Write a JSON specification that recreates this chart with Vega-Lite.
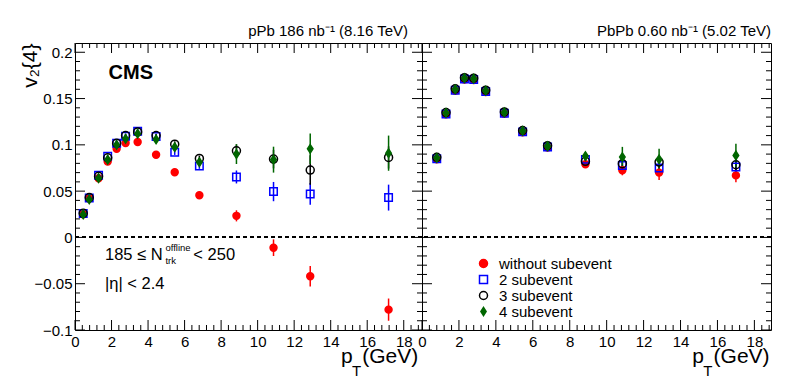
{
  "$schema": "https://vega.github.io/schema/vega-lite/v6.json",
  "background": "white",
  "padding": {"left": 18, "top": 23, "right": 5, "bottom": 5},
  "bounds": "flush",
  "spacing": 0,
  "config": {
    "font": "Liberation Sans",
    "view": {"stroke": "black", "strokeWidth": 1},
    "axis": {"domain": false, "ticks": false, "grid": false, "labelColor": "black", "labelFont": "Liberation Sans", "labelFontSize": 15, "labelFlush": false, "labelOverlap": false, "titleColor": "black", "titleFont": "Liberation Sans", "titleFontWeight": "normal"},
    "title": {"font": "Liberation Sans", "fontSize": 15, "fontWeight": "normal", "color": "black"}
  },
  "resolve": {"legend": {"shape": "independent", "stroke": "independent", "fill": "independent"}},
  "datasets": {
    "xmaj": [{"v": 0}, {"v": 2}, {"v": 4}, {"v": 6}, {"v": 8}, {"v": 10}, {"v": 12}, {"v": 14}, {"v": 16}, {"v": 18}],
    "xmin": [{"v": 0.4}, {"v": 0.8}, {"v": 1.2}, {"v": 1.6}, {"v": 2.4}, {"v": 2.8}, {"v": 3.2}, {"v": 3.6}, {"v": 4.4}, {"v": 4.8}, {"v": 5.2}, {"v": 5.6}, {"v": 6.4}, {"v": 6.8}, {"v": 7.2}, {"v": 7.6}, {"v": 8.4}, {"v": 8.8}, {"v": 9.2}, {"v": 9.6}, {"v": 10.4}, {"v": 10.8}, {"v": 11.2}, {"v": 11.6}, {"v": 12.4}, {"v": 12.8}, {"v": 13.2}, {"v": 13.6}, {"v": 14.4}, {"v": 14.8}, {"v": 15.2}, {"v": 15.6}, {"v": 16.4}, {"v": 16.8}, {"v": 17.2}, {"v": 17.6}, {"v": 18.4}, {"v": 18.8}],
    "ymaj": [{"v": -0.1}, {"v": -0.05}, {"v": 0}, {"v": 0.05}, {"v": 0.1}, {"v": 0.15}, {"v": 0.2}],
    "ymin": [{"v": -0.09}, {"v": -0.08}, {"v": -0.07}, {"v": -0.06}, {"v": -0.04}, {"v": -0.03}, {"v": -0.02}, {"v": -0.01}, {"v": 0.01}, {"v": 0.02}, {"v": 0.03}, {"v": 0.04}, {"v": 0.06}, {"v": 0.07}, {"v": 0.08}, {"v": 0.09}, {"v": 0.11}, {"v": 0.12}, {"v": 0.13}, {"v": 0.14}, {"v": 0.16}, {"v": 0.17}, {"v": 0.18}, {"v": 0.19}],
    "ppb": [
      {"pt": 0.45, "v2": 0.025, "lo": 0.024, "hi": 0.026, "m": "without subevent"},
      {"pt": 0.78, "v2": 0.042, "lo": 0.041, "hi": 0.043, "m": "without subevent"},
      {"pt": 1.29, "v2": 0.064, "lo": 0.063, "hi": 0.065, "m": "without subevent"},
      {"pt": 1.79, "v2": 0.082, "lo": 0.081, "hi": 0.083, "m": "without subevent"},
      {"pt": 2.28, "v2": 0.0957, "lo": 0.0947, "hi": 0.0967, "m": "without subevent"},
      {"pt": 2.77, "v2": 0.102, "lo": 0.101, "hi": 0.103, "m": "without subevent"},
      {"pt": 3.43, "v2": 0.103, "lo": 0.101, "hi": 0.105, "m": "without subevent"},
      {"pt": 4.44, "v2": 0.0892, "lo": 0.0872, "hi": 0.0912, "m": "without subevent"},
      {"pt": 5.46, "v2": 0.0703, "lo": 0.0683, "hi": 0.0723, "m": "without subevent"},
      {"pt": 6.81, "v2": 0.0456, "lo": 0.0426, "hi": 0.0486, "m": "without subevent"},
      {"pt": 8.84, "v2": 0.0233, "lo": 0.0173, "hi": 0.0293, "m": "without subevent"},
      {"pt": 10.87, "v2": -0.0111, "lo": -0.0201, "hi": -0.0021, "m": "without subevent"},
      {"pt": 12.88, "v2": -0.0419, "lo": -0.0529, "hi": -0.0309, "m": "without subevent"},
      {"pt": 17.17, "v2": -0.078, "lo": -0.09, "hi": -0.066, "m": "without subevent"},
      {"pt": 0.45, "v2": 0.0258, "lo": 0.0248, "hi": 0.0268, "m": "2 subevent"},
      {"pt": 0.78, "v2": 0.0427, "lo": 0.0417, "hi": 0.0437, "m": "2 subevent"},
      {"pt": 1.29, "v2": 0.0671, "lo": 0.0661, "hi": 0.0681, "m": "2 subevent"},
      {"pt": 1.79, "v2": 0.0878, "lo": 0.0868, "hi": 0.0888, "m": "2 subevent"},
      {"pt": 2.28, "v2": 0.1018, "lo": 0.1008, "hi": 0.1028, "m": "2 subevent"},
      {"pt": 2.77, "v2": 0.1093, "lo": 0.1073, "hi": 0.1113, "m": "2 subevent"},
      {"pt": 3.43, "v2": 0.1147, "lo": 0.1127, "hi": 0.1167, "m": "2 subevent"},
      {"pt": 4.44, "v2": 0.109, "lo": 0.107, "hi": 0.111, "m": "2 subevent"},
      {"pt": 5.46, "v2": 0.0921, "lo": 0.0891, "hi": 0.0951, "m": "2 subevent"},
      {"pt": 6.81, "v2": 0.0771, "lo": 0.0741, "hi": 0.0801, "m": "2 subevent"},
      {"pt": 8.84, "v2": 0.0653, "lo": 0.0583, "hi": 0.0723, "m": "2 subevent"},
      {"pt": 10.87, "v2": 0.0495, "lo": 0.0391, "hi": 0.0599, "m": "2 subevent"},
      {"pt": 12.88, "v2": 0.047, "lo": 0.0353, "hi": 0.0587, "m": "2 subevent"},
      {"pt": 17.17, "v2": 0.043, "lo": 0.029, "hi": 0.057, "m": "2 subevent"},
      {"pt": 0.45, "v2": 0.026, "lo": 0.025, "hi": 0.027, "m": "3 subevent"},
      {"pt": 0.78, "v2": 0.043, "lo": 0.042, "hi": 0.044, "m": "3 subevent"},
      {"pt": 1.29, "v2": 0.066, "lo": 0.065, "hi": 0.067, "m": "3 subevent"},
      {"pt": 1.79, "v2": 0.086, "lo": 0.085, "hi": 0.087, "m": "3 subevent"},
      {"pt": 2.28, "v2": 0.1017, "lo": 0.1007, "hi": 0.1027, "m": "3 subevent"},
      {"pt": 2.77, "v2": 0.11, "lo": 0.108, "hi": 0.112, "m": "3 subevent"},
      {"pt": 3.43, "v2": 0.114, "lo": 0.112, "hi": 0.116, "m": "3 subevent"},
      {"pt": 4.44, "v2": 0.11, "lo": 0.108, "hi": 0.112, "m": "3 subevent"},
      {"pt": 5.46, "v2": 0.1007, "lo": 0.0977, "hi": 0.1037, "m": "3 subevent"},
      {"pt": 6.81, "v2": 0.0853, "lo": 0.0823, "hi": 0.0883, "m": "3 subevent"},
      {"pt": 8.84, "v2": 0.0935, "lo": 0.0865, "hi": 0.1005, "m": "3 subevent"},
      {"pt": 10.87, "v2": 0.0846, "lo": 0.0746, "hi": 0.0946, "m": "3 subevent"},
      {"pt": 12.88, "v2": 0.0728, "lo": 0.0568, "hi": 0.0888, "m": "3 subevent"},
      {"pt": 17.17, "v2": 0.0864, "lo": 0.0744, "hi": 0.0984, "m": "3 subevent"},
      {"pt": 0.45, "v2": 0.0248, "lo": 0.0238, "hi": 0.0258, "m": "4 subevent"},
      {"pt": 0.78, "v2": 0.041, "lo": 0.04, "hi": 0.042, "m": "4 subevent"},
      {"pt": 1.29, "v2": 0.064, "lo": 0.063, "hi": 0.065, "m": "4 subevent"},
      {"pt": 1.79, "v2": 0.084, "lo": 0.082, "hi": 0.086, "m": "4 subevent"},
      {"pt": 2.28, "v2": 0.1, "lo": 0.098, "hi": 0.102, "m": "4 subevent"},
      {"pt": 2.77, "v2": 0.1065, "lo": 0.1045, "hi": 0.1085, "m": "4 subevent"},
      {"pt": 3.43, "v2": 0.112, "lo": 0.109, "hi": 0.115, "m": "4 subevent"},
      {"pt": 4.44, "v2": 0.1058, "lo": 0.1028, "hi": 0.1088, "m": "4 subevent"},
      {"pt": 5.46, "v2": 0.0975, "lo": 0.0935, "hi": 0.1015, "m": "4 subevent"},
      {"pt": 6.81, "v2": 0.0813, "lo": 0.0773, "hi": 0.0853, "m": "4 subevent"},
      {"pt": 8.84, "v2": 0.09, "lo": 0.0793, "hi": 0.1007, "m": "4 subevent"},
      {"pt": 10.87, "v2": 0.084, "lo": 0.07, "hi": 0.098, "m": "4 subevent"},
      {"pt": 12.88, "v2": 0.0957, "lo": 0.0792, "hi": 0.1122, "m": "4 subevent"},
      {"pt": 17.17, "v2": 0.091, "lo": 0.072, "hi": 0.11, "m": "4 subevent"}
    ],
    "pbpb": [
      {"pt": 0.8, "v2": 0.0845, "lo": 0.0835, "hi": 0.0855, "m": "without subevent"},
      {"pt": 1.3, "v2": 0.1329, "lo": 0.1319, "hi": 0.1339, "m": "without subevent"},
      {"pt": 1.8, "v2": 0.1585, "lo": 0.1575, "hi": 0.1595, "m": "without subevent"},
      {"pt": 2.3, "v2": 0.1705, "lo": 0.1695, "hi": 0.1715, "m": "without subevent"},
      {"pt": 2.8, "v2": 0.17, "lo": 0.169, "hi": 0.171, "m": "without subevent"},
      {"pt": 3.45, "v2": 0.157, "lo": 0.156, "hi": 0.158, "m": "without subevent"},
      {"pt": 4.46, "v2": 0.1335, "lo": 0.1325, "hi": 0.1345, "m": "without subevent"},
      {"pt": 5.45, "v2": 0.1135, "lo": 0.1125, "hi": 0.1145, "m": "without subevent"},
      {"pt": 6.8, "v2": 0.0971, "lo": 0.0961, "hi": 0.0981, "m": "without subevent"},
      {"pt": 8.85, "v2": 0.079, "lo": 0.077, "hi": 0.081, "m": "without subevent"},
      {"pt": 10.85, "v2": 0.0725, "lo": 0.0671, "hi": 0.0779, "m": "without subevent"},
      {"pt": 12.84, "v2": 0.07, "lo": 0.062, "hi": 0.078, "m": "without subevent"},
      {"pt": 17.0, "v2": 0.067, "lo": 0.0595, "hi": 0.0745, "m": "without subevent"},
      {"pt": 0.8, "v2": 0.085, "lo": 0.084, "hi": 0.086, "m": "2 subevent"},
      {"pt": 1.3, "v2": 0.1334, "lo": 0.1324, "hi": 0.1344, "m": "2 subevent"},
      {"pt": 1.8, "v2": 0.159, "lo": 0.158, "hi": 0.16, "m": "2 subevent"},
      {"pt": 2.3, "v2": 0.171, "lo": 0.17, "hi": 0.172, "m": "2 subevent"},
      {"pt": 2.8, "v2": 0.1705, "lo": 0.1695, "hi": 0.1715, "m": "2 subevent"},
      {"pt": 3.45, "v2": 0.1575, "lo": 0.1565, "hi": 0.1585, "m": "2 subevent"},
      {"pt": 4.46, "v2": 0.134, "lo": 0.133, "hi": 0.135, "m": "2 subevent"},
      {"pt": 5.45, "v2": 0.114, "lo": 0.113, "hi": 0.115, "m": "2 subevent"},
      {"pt": 6.8, "v2": 0.0976, "lo": 0.0966, "hi": 0.0986, "m": "2 subevent"},
      {"pt": 8.85, "v2": 0.0843, "lo": 0.0823, "hi": 0.0863, "m": "2 subevent"},
      {"pt": 10.85, "v2": 0.0778, "lo": 0.0728, "hi": 0.0828, "m": "2 subevent"},
      {"pt": 12.84, "v2": 0.075, "lo": 0.068, "hi": 0.082, "m": "2 subevent"},
      {"pt": 17.0, "v2": 0.076, "lo": 0.07, "hi": 0.082, "m": "2 subevent"},
      {"pt": 0.8, "v2": 0.0865, "lo": 0.0855, "hi": 0.0875, "m": "3 subevent"},
      {"pt": 1.3, "v2": 0.1349, "lo": 0.1339, "hi": 0.1359, "m": "3 subevent"},
      {"pt": 1.8, "v2": 0.1605, "lo": 0.1595, "hi": 0.1615, "m": "3 subevent"},
      {"pt": 2.3, "v2": 0.1725, "lo": 0.1715, "hi": 0.1735, "m": "3 subevent"},
      {"pt": 2.8, "v2": 0.172, "lo": 0.171, "hi": 0.173, "m": "3 subevent"},
      {"pt": 3.45, "v2": 0.159, "lo": 0.158, "hi": 0.16, "m": "3 subevent"},
      {"pt": 4.46, "v2": 0.1355, "lo": 0.1345, "hi": 0.1365, "m": "3 subevent"},
      {"pt": 5.45, "v2": 0.1155, "lo": 0.1145, "hi": 0.1165, "m": "3 subevent"},
      {"pt": 6.8, "v2": 0.0991, "lo": 0.0981, "hi": 0.1001, "m": "3 subevent"},
      {"pt": 8.85, "v2": 0.0822, "lo": 0.0792, "hi": 0.0852, "m": "3 subevent"},
      {"pt": 10.85, "v2": 0.0796, "lo": 0.0736, "hi": 0.0856, "m": "3 subevent"},
      {"pt": 12.84, "v2": 0.0814, "lo": 0.0744, "hi": 0.0884, "m": "3 subevent"},
      {"pt": 17.0, "v2": 0.0785, "lo": 0.0725, "hi": 0.0845, "m": "3 subevent"},
      {"pt": 0.8, "v2": 0.086, "lo": 0.0845, "hi": 0.0875, "m": "4 subevent"},
      {"pt": 1.3, "v2": 0.1344, "lo": 0.1329, "hi": 0.1359, "m": "4 subevent"},
      {"pt": 1.8, "v2": 0.16, "lo": 0.1585, "hi": 0.1615, "m": "4 subevent"},
      {"pt": 2.3, "v2": 0.172, "lo": 0.1705, "hi": 0.1735, "m": "4 subevent"},
      {"pt": 2.8, "v2": 0.1715, "lo": 0.17, "hi": 0.173, "m": "4 subevent"},
      {"pt": 3.45, "v2": 0.1585, "lo": 0.157, "hi": 0.16, "m": "4 subevent"},
      {"pt": 4.46, "v2": 0.135, "lo": 0.1335, "hi": 0.1365, "m": "4 subevent"},
      {"pt": 5.45, "v2": 0.115, "lo": 0.1135, "hi": 0.1165, "m": "4 subevent"},
      {"pt": 6.8, "v2": 0.0986, "lo": 0.0971, "hi": 0.1001, "m": "4 subevent"},
      {"pt": 8.85, "v2": 0.0879, "lo": 0.0839, "hi": 0.0919, "m": "4 subevent"},
      {"pt": 10.85, "v2": 0.0868, "lo": 0.0758, "hi": 0.0978, "m": "4 subevent"},
      {"pt": 12.84, "v2": 0.0843, "lo": 0.0728, "hi": 0.0958, "m": "4 subevent"},
      {"pt": 17.0, "v2": 0.0886, "lo": 0.0761, "hi": 0.1011, "m": "4 subevent"}
    ]
  },
  "hconcat": [
    {
      "width": 347,
      "height": 287,
      "data": {"name": "ppb"},
      "title": {"text": "pPb 186 nb⁻¹ (8.16 TeV)", "anchor": "end", "frame": "group", "dx": -14, "dy": 13, "offset": 5, "baseline": "alphabetic"},
      "layer": [
        {"data": {"name": "xmaj"}, "mark": {"type": "tick", "orient": "vertical", "size": 10, "thickness": 1, "color": "black", "opacity": 1, "yOffset": -5}, "encoding": {"x": {"field": "v", "type": "quantitative", "axis": null}, "y": {"datum": -0.1, "type": "quantitative", "axis": null}}},
        {"data": {"name": "xmaj"}, "mark": {"type": "tick", "orient": "vertical", "size": 10, "thickness": 1, "color": "black", "opacity": 1, "yOffset": 5}, "encoding": {"x": {"field": "v", "type": "quantitative", "axis": null}, "y": {"datum": 0.21, "type": "quantitative", "axis": null}}},
        {"data": {"name": "xmin"}, "mark": {"type": "tick", "orient": "vertical", "size": 5, "thickness": 1, "color": "black", "opacity": 1, "yOffset": -2.5}, "encoding": {"x": {"field": "v", "type": "quantitative", "axis": null}, "y": {"datum": -0.1, "type": "quantitative", "axis": null}}},
        {"data": {"name": "xmin"}, "mark": {"type": "tick", "orient": "vertical", "size": 5, "thickness": 1, "color": "black", "opacity": 1, "yOffset": 2.5}, "encoding": {"x": {"field": "v", "type": "quantitative", "axis": null}, "y": {"datum": 0.21, "type": "quantitative", "axis": null}}},
        {"data": {"name": "ymaj"}, "mark": {"type": "tick", "orient": "horizontal", "size": 10, "thickness": 1, "color": "black", "opacity": 1, "xOffset": 5}, "encoding": {"y": {"field": "v", "type": "quantitative", "axis": null}, "x": {"datum": 0, "type": "quantitative", "axis": null}}},
        {"data": {"name": "ymaj"}, "mark": {"type": "tick", "orient": "horizontal", "size": 10, "thickness": 1, "color": "black", "opacity": 1, "xOffset": -5}, "encoding": {"y": {"field": "v", "type": "quantitative", "axis": null}, "x": {"datum": 19, "type": "quantitative", "axis": null}}},
        {"data": {"name": "ymin"}, "mark": {"type": "tick", "orient": "horizontal", "size": 5, "thickness": 1, "color": "black", "opacity": 1, "xOffset": 2.5}, "encoding": {"y": {"field": "v", "type": "quantitative", "axis": null}, "x": {"datum": 0, "type": "quantitative", "axis": null}}},
        {"data": {"name": "ymin"}, "mark": {"type": "tick", "orient": "horizontal", "size": 5, "thickness": 1, "color": "black", "opacity": 1, "xOffset": -2.5}, "encoding": {"y": {"field": "v", "type": "quantitative", "axis": null}, "x": {"datum": 19, "type": "quantitative", "axis": null}}},
        {
          "mark": {"type": "rule", "color": "black", "strokeWidth": 1, "strokeDash": [4, 3]},
          "encoding": {"y": {"datum": 0, "type": "quantitative", "axis": null}}
        },
        {
          "mark": {"type": "rule", "strokeWidth": 1.5},
          "encoding": {
            "x": {"field": "pt", "type": "quantitative", "scale": {"domain": [0, 19], "nice": false, "zero": false},
              "axis": {"orient": "bottom", "title": null, "values": [0,2,4,6,8,10,12,14,16,18], "format": "d", "labelPadding": 4}},
            "y": {"field": "lo", "type": "quantitative", "scale": {"domain": [-0.1, 0.21], "nice": false, "zero": false},
              "axis": {"orient": "left", "title": "v₂{4}", "titleFontSize": 21, "titleX": -39, "titleY": 0, "titleAlign": "right", "titleAngle": -90, "titleBaseline": "alphabetic",
                "values": [-0.1,-0.05,0,0.05,0.1,0.15,0.2], "format": "~g", "labelPadding": 3}},
            "y2": {"field": "hi"},
            "color": {"field": "m", "type": "nominal", "scale": {"domain": ["without subevent", "2 subevent", "3 subevent", "4 subevent"], "range": ["#ff0000", "#0000ff", "#000000", "#006600"]}, "legend": null}
          }
        },
        {
          "mark": {"type": "point", "filled": true, "opacity": 1, "strokeWidth": 1.5},
          "encoding": {
            "x": {"field": "pt", "type": "quantitative", "scale": {"domain": [0, 19], "nice": false, "zero": false}, "axis": null},
            "y": {"field": "v2", "type": "quantitative", "scale": {"domain": [-0.1, 0.21], "nice": false, "zero": false}, "axis": null},
            "shape": {"field": "m", "type": "nominal", "scale": {"domain": ["without subevent", "2 subevent", "3 subevent", "4 subevent"], "range": ["circle", "square", "circle", "M0,-1L0.65,0L0,1L-0.65,0Z"]}, "legend": null},
            "stroke": {"field": "m", "type": "nominal", "scale": {"domain": ["without subevent", "2 subevent", "3 subevent", "4 subevent"], "range": ["#ff0000", "#0000ff", "#000000", "#006600"]}, "legend": null},
            "fill": {"field": "m", "type": "nominal", "scale": {"domain": ["without subevent", "2 subevent", "3 subevent", "4 subevent"], "range": ["#ff0000", "transparent", "transparent", "#006600"]}, "legend": null},
            "size": {"field": "m", "type": "nominal", "scale": {"domain": ["without subevent", "2 subevent", "3 subevent", "4 subevent"], "range": [48, 72, 56, 100]}, "legend": null}
          }
        },
        {
          "data": {"values": [{}]},
          "mark": {"type": "text", "text": "p", "font": "Liberation Sans", "fontSize": 21, "align": "left", "baseline": "alphabetic", "color": "black"},
          "encoding": {"x": {"datum": 14.57, "type": "quantitative", "axis": null}, "y": {"datum": -0.1357, "type": "quantitative", "axis": null}}
        },
        {
          "data": {"values": [{}]},
          "mark": {"type": "text", "text": "T", "font": "Liberation Sans", "fontSize": 15, "align": "left", "baseline": "alphabetic", "color": "black"},
          "encoding": {"x": {"datum": 15.17, "type": "quantitative", "axis": null}, "y": {"datum": -0.15, "type": "quantitative", "axis": null}}
        },
        {
          "data": {"values": [{}]},
          "mark": {"type": "text", "text": "(GeV)", "font": "Liberation Sans", "fontSize": 21, "align": "left", "baseline": "alphabetic", "color": "black"},
          "encoding": {"x": {"datum": 15.73, "type": "quantitative", "axis": null}, "y": {"datum": -0.1357, "type": "quantitative", "axis": null}}
        },
        {
          "data": {"values": [{}]},
          "mark": {"type": "text", "text": "CMS", "font": "Liberation Sans", "fontSize": 20, "fontWeight": "bold", "align": "left", "baseline": "alphabetic", "color": "black"},
          "encoding": {"x": {"datum": 1.84, "type": "quantitative", "axis": null}, "y": {"datum": 0.1715, "type": "quantitative", "axis": null}}
        },
        {
          "data": {"values": [{}]},
          "mark": {"type": "text", "text": "185 ≤ N", "font": "Liberation Sans", "fontSize": 16.5, "align": "left", "baseline": "alphabetic", "color": "black"},
          "encoding": {"x": {"datum": 1.64, "type": "quantitative", "axis": null}, "y": {"datum": -0.0247, "type": "quantitative", "axis": null}}
        },
        {
          "data": {"values": [{}]},
          "mark": {"type": "text", "text": "offline", "font": "Liberation Sans", "fontSize": 9.5, "align": "left", "baseline": "alphabetic", "color": "black"},
          "encoding": {"x": {"datum": 4.95, "type": "quantitative", "axis": null}, "y": {"datum": -0.015, "type": "quantitative", "axis": null}}
        },
        {
          "data": {"values": [{}]},
          "mark": {"type": "text", "text": "trk", "font": "Liberation Sans", "fontSize": 9.5, "align": "left", "baseline": "alphabetic", "color": "black"},
          "encoding": {"x": {"datum": 4.95, "type": "quantitative", "axis": null}, "y": {"datum": -0.0287, "type": "quantitative", "axis": null}}
        },
        {
          "data": {"values": [{}]},
          "mark": {"type": "text", "text": "< 250", "font": "Liberation Sans", "fontSize": 16.5, "align": "left", "baseline": "alphabetic", "color": "black"},
          "encoding": {"x": {"datum": 6.48, "type": "quantitative", "axis": null}, "y": {"datum": -0.0247, "type": "quantitative", "axis": null}}
        },
        {
          "data": {"values": [{}]},
          "mark": {"type": "text", "text": "|η| < 2.4", "font": "Liberation Sans", "fontSize": 16.5, "align": "left", "baseline": "alphabetic", "color": "black"},
          "encoding": {"x": {"datum": 1.64, "type": "quantitative", "axis": null}, "y": {"datum": -0.0557, "type": "quantitative", "axis": null}}
        }
      ],
      "resolve": {"axis": {"x": "independent", "y": "independent"}}
    },
    {
      "width": 349,
      "height": 287,
      "data": {"name": "pbpb"},
      "title": {"text": "PbPb 0.60 nb⁻¹ (5.02 TeV)", "anchor": "end", "frame": "group", "dx": 0, "dy": 13, "offset": 5, "baseline": "alphabetic"},
      "layer": [
        {"data": {"name": "xmaj"}, "mark": {"type": "tick", "orient": "vertical", "size": 10, "thickness": 1, "color": "black", "opacity": 1, "yOffset": -5}, "encoding": {"x": {"field": "v", "type": "quantitative", "axis": null}, "y": {"datum": -0.1, "type": "quantitative", "axis": null}}},
        {"data": {"name": "xmaj"}, "mark": {"type": "tick", "orient": "vertical", "size": 10, "thickness": 1, "color": "black", "opacity": 1, "yOffset": 5}, "encoding": {"x": {"field": "v", "type": "quantitative", "axis": null}, "y": {"datum": 0.21, "type": "quantitative", "axis": null}}},
        {"data": {"name": "xmin"}, "mark": {"type": "tick", "orient": "vertical", "size": 5, "thickness": 1, "color": "black", "opacity": 1, "yOffset": -2.5}, "encoding": {"x": {"field": "v", "type": "quantitative", "axis": null}, "y": {"datum": -0.1, "type": "quantitative", "axis": null}}},
        {"data": {"name": "xmin"}, "mark": {"type": "tick", "orient": "vertical", "size": 5, "thickness": 1, "color": "black", "opacity": 1, "yOffset": 2.5}, "encoding": {"x": {"field": "v", "type": "quantitative", "axis": null}, "y": {"datum": 0.21, "type": "quantitative", "axis": null}}},
        {"data": {"name": "ymaj"}, "mark": {"type": "tick", "orient": "horizontal", "size": 10, "thickness": 1, "color": "black", "opacity": 1, "xOffset": 5}, "encoding": {"y": {"field": "v", "type": "quantitative", "axis": null}, "x": {"datum": 0, "type": "quantitative", "axis": null}}},
        {"data": {"name": "ymaj"}, "mark": {"type": "tick", "orient": "horizontal", "size": 10, "thickness": 1, "color": "black", "opacity": 1, "xOffset": -5}, "encoding": {"y": {"field": "v", "type": "quantitative", "axis": null}, "x": {"datum": 18.9, "type": "quantitative", "axis": null}}},
        {"data": {"name": "ymin"}, "mark": {"type": "tick", "orient": "horizontal", "size": 5, "thickness": 1, "color": "black", "opacity": 1, "xOffset": 2.5}, "encoding": {"y": {"field": "v", "type": "quantitative", "axis": null}, "x": {"datum": 0, "type": "quantitative", "axis": null}}},
        {"data": {"name": "ymin"}, "mark": {"type": "tick", "orient": "horizontal", "size": 5, "thickness": 1, "color": "black", "opacity": 1, "xOffset": -2.5}, "encoding": {"y": {"field": "v", "type": "quantitative", "axis": null}, "x": {"datum": 18.9, "type": "quantitative", "axis": null}}},
        {
          "mark": {"type": "rule", "color": "black", "strokeWidth": 1, "strokeDash": [4, 3]},
          "encoding": {"y": {"datum": 0, "type": "quantitative", "axis": null}}
        },
        {
          "mark": {"type": "rule", "strokeWidth": 1.5},
          "encoding": {
            "x": {"field": "pt", "type": "quantitative", "scale": {"domain": [0, 18.9], "nice": false, "zero": false},
              "axis": {"orient": "bottom", "title": null, "values": [0,2,4,6,8,10,12,14,16,18], "format": "d", "labelPadding": 4}},
            "y": {"field": "lo", "type": "quantitative", "scale": {"domain": [-0.1, 0.21], "nice": false, "zero": false}, "axis": null},
            "y2": {"field": "hi"},
            "color": {"field": "m", "type": "nominal", "scale": {"domain": ["without subevent", "2 subevent", "3 subevent", "4 subevent"], "range": ["#ff0000", "#0000ff", "#000000", "#006600"]}, "legend": null}
          }
        },
        {
          "mark": {"type": "point", "filled": true, "opacity": 1, "strokeWidth": 1.5},
          "encoding": {
            "x": {"field": "pt", "type": "quantitative", "scale": {"domain": [0, 18.9], "nice": false, "zero": false}, "axis": null},
            "y": {"field": "v2", "type": "quantitative", "scale": {"domain": [-0.1, 0.21], "nice": false, "zero": false}, "axis": null},
            "shape": {"field": "m", "type": "nominal", "scale": {"domain": ["without subevent", "2 subevent", "3 subevent", "4 subevent"], "range": ["circle", "square", "circle", "M0,-1L0.65,0L0,1L-0.65,0Z"]},
              "legend": {"orient": "none", "legendX": 54, "legendY": 213, "title": null, "labelFontSize": 15, "labelFont": "Liberation Sans", "labelColor": "black", "symbolSize": 64, "symbolStrokeWidth": 1.5, "rowPadding": -2, "padding": 0, "labelOffset": 8, "labelLimit": 300}},
            "stroke": {"field": "m", "type": "nominal", "scale": {"domain": ["without subevent", "2 subevent", "3 subevent", "4 subevent"], "range": ["#ff0000", "#0000ff", "#000000", "#006600"]},
              "legend": {"orient": "none", "legendX": 54, "legendY": 213, "title": null, "labelFontSize": 15, "labelFont": "Liberation Sans", "labelColor": "black", "symbolSize": 64, "symbolStrokeWidth": 1.5, "rowPadding": -2, "padding": 0, "labelOffset": 8, "labelLimit": 300}},
            "fill": {"field": "m", "type": "nominal", "scale": {"domain": ["without subevent", "2 subevent", "3 subevent", "4 subevent"], "range": ["#ff0000", "transparent", "transparent", "#006600"]},
              "legend": {"orient": "none", "legendX": 54, "legendY": 213, "title": null, "labelFontSize": 15, "labelFont": "Liberation Sans", "labelColor": "black", "symbolSize": 64, "symbolStrokeWidth": 1.5, "rowPadding": -2, "padding": 0, "labelOffset": 8, "labelLimit": 300}},
            "size": {"field": "m", "type": "nominal", "scale": {"domain": ["without subevent", "2 subevent", "3 subevent", "4 subevent"], "range": [48, 72, 56, 100]}, "legend": null}
          }
        },
        {
          "data": {"values": [{}]},
          "mark": {"type": "text", "text": "p", "font": "Liberation Sans", "fontSize": 21, "align": "left", "baseline": "alphabetic", "color": "black"},
          "encoding": {"x": {"datum": 14.63, "type": "quantitative", "axis": null}, "y": {"datum": -0.1357, "type": "quantitative", "axis": null}}
        },
        {
          "data": {"values": [{}]},
          "mark": {"type": "text", "text": "T", "font": "Liberation Sans", "fontSize": 15, "align": "left", "baseline": "alphabetic", "color": "black"},
          "encoding": {"x": {"datum": 15.23, "type": "quantitative", "axis": null}, "y": {"datum": -0.15, "type": "quantitative", "axis": null}}
        },
        {
          "data": {"values": [{}]},
          "mark": {"type": "text", "text": "(GeV)", "font": "Liberation Sans", "fontSize": 21, "align": "left", "baseline": "alphabetic", "color": "black"},
          "encoding": {"x": {"datum": 15.79, "type": "quantitative", "axis": null}, "y": {"datum": -0.1357, "type": "quantitative", "axis": null}}
        }
      ],
      "resolve": {"axis": {"x": "independent", "y": "independent"}}
    }
  ]
}
